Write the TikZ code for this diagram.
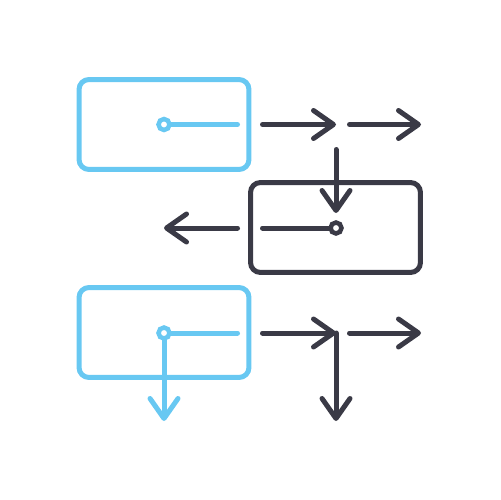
\documentclass[tikz,border=0pt]{standalone}
\usetikzlibrary{arrows.meta}
\definecolor{skyline}{HTML}{68C8F2}
\definecolor{inkline}{HTML}{3A3A46}
\tikzset{
  panel/.style={draw, rounded corners=0.2cm, line width=0.1cm, minimum width=3.4cm, minimum height=1.8cm, inner sep=0pt},
  wire/.style={line width=0.1cm, line cap=round},
  flow/.style={wire, -{Straight Barb[length=0.4cm,width=0.56cm,round]}},
  knob/.style={circle, draw=#1, fill=white, line width=0.09cm, minimum size=0.22cm, inner sep=0pt}
}
\begin{document}
\begin{tikzpicture}[x=0.02cm,y=-0.02cm]
  \useasboundingbox (0,0) rectangle (500,500);
  % boxes
  \node[panel, skyline] (top) at (164,124.5) {};
  \node[panel, inkline] (mid) at (335.5,227.5) {};
  \node[panel, skyline] (low) at (164,332.5) {};
  % free ends
  \coordinate (topend) at (237.5,124.5);
  \coordinate (a1s) at (262.5,124.5);
  \coordinate (a1t) at (336,124.5);
  \coordinate (a2s) at (349.5,124.5);
  \coordinate (a2t) at (421,124.5);
  \coordinate (dns) at (336,149.5);
  \coordinate (dnt) at (336,213);
  \coordinate (mids) at (262.5,228);
  \coordinate (lfs) at (237.5,228);
  \coordinate (lft) at (164,228);
  \coordinate (lowend) at (237.5,333);
  \coordinate (bdn) at (164,421);
  \coordinate (b1s) at (262.5,333);
  \coordinate (b1t) at (336,333);
  \coordinate (b2s) at (349.5,333);
  \coordinate (b2t) at (421,333);
  \coordinate (b3t) at (336,421);
  % top row
  \draw[wire, skyline] (164,124.5) -- (topend);
  \draw[flow, inkline] (a1s) -- (a1t);
  \draw[flow, inkline] (a2s) -- (a2t);
  \draw[flow, inkline] (dns) -- (dnt);
  % middle row
  \draw[wire, inkline] (mids) -- (336,228);
  \draw[flow, inkline] (lfs) -- (lft);
  % bottom row
  \draw[wire, skyline] (164,333) -- (lowend);
  \draw[flow, skyline] (164,333) -- (bdn);
  \draw[flow, inkline] (b1s) -- (b1t);
  \draw[flow, inkline] (336,333) -- (b3t);
  \draw[flow, inkline] (b2s) -- (b2t);
  % knobs
  \node[knob=skyline] (topknob) at (164,124.5) {};
  \node[knob=inkline] (midknob) at (336,228) {};
  \node[knob=skyline] (lowknob) at (164,333) {};
\end{tikzpicture}
\end{document}
